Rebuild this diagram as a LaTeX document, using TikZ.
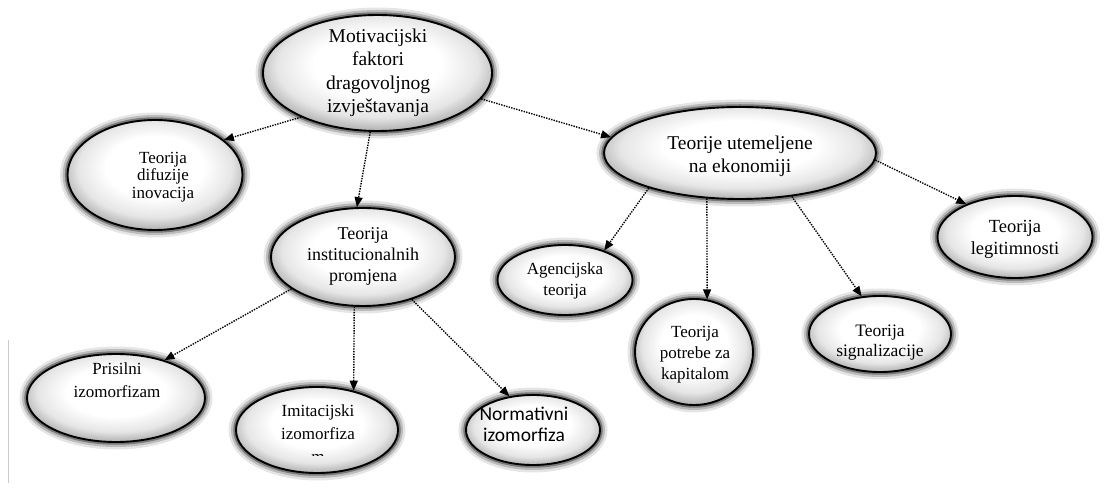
\documentclass[tikz,border=0pt]{standalone}
\usepackage{fontspec}
\setmainfont{Liberation Serif}
\newfontfamily\calib{Carlito}
\usetikzlibrary{shapes.geometric,arrows.meta}
\pgfdeclareradialshading{bubshade}{\pgfpoint{0bp}{5bp}}{%
  color(0bp)=(white); color(14bp)=(white); color(22bp)=(black!10);
  color(27bp)=(black!30); color(50bp)=(black!30)}
\begin{document}
\begin{tikzpicture}[x=1bp,y=-1bp,
  bub/.style={ellipse, inner sep=0pt, draw=black, line width=1.9bp,
    shading=bubshade,
    preaction={draw=black, line width=15bp, opacity=0.10},
    preaction={draw=black, line width=10bp, opacity=0.18},
    preaction={draw=black, line width=5.5bp, opacity=0.35}},
  txt/.style={align=center, inner sep=0pt},
  con/.style={line width=1.4bp, dash pattern=on 1.4bp off 1.2bp,
    -{Triangle[length=10bp,width=8bp]}},
]
\useasboundingbox (0,0) rectangle (1117,495);
\fill[white] (0,0) rectangle (1117,495);
\draw[black!20, line width=0.6bp] (8,340) -- (8,483);

% ellipses
\node[bub, minimum width=229bp, minimum height=116bp] (main) at (377.5,73) {};
\node[bub, minimum width=175bp, minimum height=110bp] (dif) at (155,175) {};
\node[bub, minimum width=272bp, minimum height=92bp] (eko) at (740,153) {};
\node[bub, minimum width=184bp, minimum height=98bp] (inst) at (363,257) {};
\node[bub, minimum width=155bp, minimum height=82bp] (leg) at (1015,237) {};
\node[bub, minimum width=135bp, minimum height=70bp] (agen) at (565,280) {};
\node[bub, minimum width=118bp, minimum height=106bp] (kap) at (694,352) {};
\node[bub, minimum width=142bp, minimum height=76bp] (sig) at (880,334) {};
\node[bub, minimum width=178bp, minimum height=88bp] (pris) at (116,398) {};
\node[bub, minimum width=162bp, minimum height=86bp] (imit) at (317,430) {};
\node[bub, minimum width=134bp, minimum height=70bp] (norm) at (533,430) {};

% texts
\node[txt, font=\fontsize{19.5bp}{23.5bp}\selectfont] (mainT) at (378,73) {Motivacijski\\faktori\\dragovoljnog\\izvještavanja};
\node[txt, font=\fontsize{17bp}{17.5bp}\selectfont] (difT) at (163,177) {Teorija\\difuzije\\inovacija};
\node[txt, font=\fontsize{19.5bp}{23bp}\selectfont] (ekoT) at (740,156) {Teorije utemeljene\\na ekonomiji};
\node[txt, font=\fontsize{18bp}{21bp}\selectfont] (instT) at (363,256) {Teorija\\institucionalnih\\promjena};
\node[txt, font=\fontsize{18.5bp}{22bp}\selectfont] (legT) at (1015,239) {Teorija\\legitimnosti};
\node[txt, font=\fontsize{17bp}{21bp}\selectfont] (agenT) at (565,281) {Agencijska\\teorija};
\node[txt, font=\fontsize{17bp}{21bp}\selectfont] (kapT) at (695,355) {Teorija\\potrebe za\\kapitalom};
\node[txt, font=\fontsize{17.5bp}{20bp}\selectfont] (sigT) at (880,343) {Teorija\\signalizacije};
\node[txt, font=\fontsize{17bp}{23bp}\selectfont] (prisT) at (117,380) {Prisilni\\izomorfizam};
\node[txt, font=\fontsize{17bp}{23bp}\selectfont] (imitT) at (318,422) {Imitacijski\\izomorfiza};
\begin{scope}
  \clip (280,440) rectangle (360,455);
  \node[txt, font=\fontsize{17bp}{23bp}\selectfont] (imitM) at (318,458) {m};
\end{scope}
\node[txt, font=\calib\fontsize{19.5bp}{21bp}\selectfont] (normT) at (524,424) {Normativni\\izomorfiza};

% connectors
\draw[con] (main.210) -- (dif.27.6);
\draw[con] (main.263) -- (inst.97);
\draw[con] (main.346.5) -- (eko.173.3);
\draw[con] (eko.201.5) -- (agen.37.2);
\draw[con] (eko.234) -- (kap.76.5);
\draw[con] (eko.320.7) -- (sig.116);
\draw[con] (eko.357) -- (leg.146.6);
\draw[con] (inst.204.2) -- (pris.38.2);
\draw[con] (inst.260.7) -- (imit.47.9);
\draw[con] (inst.319.5) -- (norm.125.7);
\end{tikzpicture}
\end{document}
